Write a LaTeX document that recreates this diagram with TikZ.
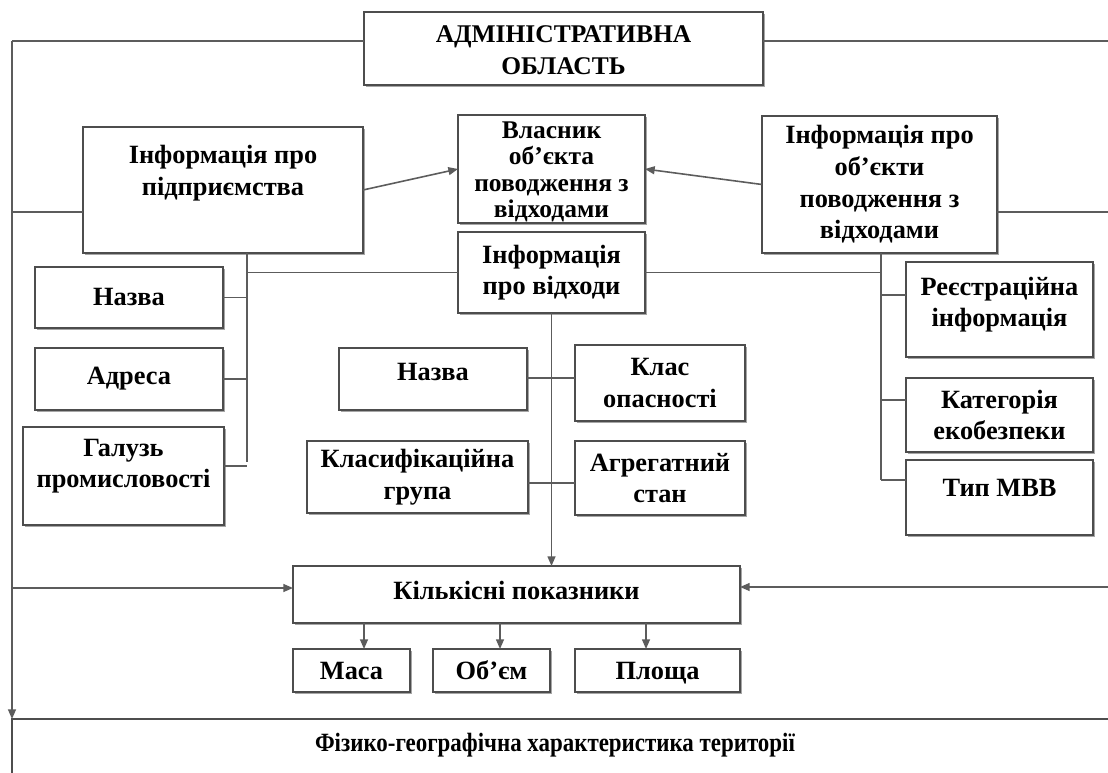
\documentclass[tikz,border=0pt]{standalone}
\usepackage{fontspec}
\setmainfont{Liberation Serif}
\usepackage{graphicx}
\usepackage{tikz}
\usetikzlibrary{calc,arrows.meta,shadows}
\newcommand{\pxl}{0.02cm}
\definecolor{ln}{HTML}{5C5C5C}
\definecolor{bx}{HTML}{4D4D4D}

\begin{document}
\begin{tikzpicture}[x=0.02cm,y=-0.02cm,
                    box/.style={draw=bx,line width=1.1pt,fill=white,rectangle,inner sep=0pt,outer sep=0pt,anchor=north west,
                        drop shadow={shadow xshift=1.3pt,shadow yshift=-1.3pt,fill=black!35,opacity=1}},
                    txt/.style={align=center,inner sep=0pt,font=\bfseries\fontsize{15}{18}\selectfont},
                    wire/.style={draw=ln,line width=0.9pt},
                    arr/.style={wire,-{Triangle[length=5.5pt,width=4.5pt]}}]
                    \useasboundingbox (0,0) rectangle (1108,773);
                    \fill[white] (0,0) rectangle (1108,773);

                    \foreach \n/\xa/\ya/\xb/\yb in {oblast/364/12/763/85, pidpr/83/127/363/253, vlasnyk/458/115/645/223,
                        obyekty/762/116/997/253, vidkhody/458/232/645/313, nazva/35/267/223/328, adresa/35/348/223/410,
                        haluz/23/427/224/525, nazvavid/339/348/527/410, klasyf/307/441/528/513, klas/575/345/745/421,
                        ahreh/575/441/745/515, reyestr/906/262/1093/357, kategor/906/378/1093/452, typ/906/460/1093/535,
                        kilk/293/566/740/623, masa/293/649/410/692, obyem/433/649/550/692, ploshcha/575/649/740/692}{
                    \node[box,minimum width={(\xb-\xa)*\pxl},minimum height={(\yb-\ya)*\pxl}] (\n) at (\xa,\ya) {};
                    }
                    \node[draw=bx,line width=1.1pt,rectangle,inner sep=0pt,outer sep=0pt,anchor=north west,
                        minimum width={1120*\pxl},minimum height={70*\pxl}] (fizgeo) at (12,719) {};

                    \node[txt,font=\bfseries\fontsize{14.5}{18}\selectfont] (oblast-t) at ($(oblast.center)+(0,2)$) {АДМІНІСТРАТИВНА\\ОБЛАСТЬ};
                    \node[txt] (pidpr-t) at ($(pidpr.center)+(0,-17)$) {Інформація про\\підприємства};
                    \node[txt,font=\bfseries\fontsize{14.5}{15}\selectfont] (vlasnyk-t) at ($(vlasnyk.center)+(0,3)$) {Власник\\об’єкта\\поводження з\\відходами};
                    \node[txt] (obyekty-t) at (obyekty.center) {Інформація про\\об’єкти\\поводження з\\відходами};
                    \node[txt] (vidkhody-t) at (vidkhody.center) {Інформація\\про відходи};
                    \node[txt] (nazva-t) at (nazva.center) {Назва};
                    \node[txt] (adresa-t) at (adresa.center) {Адреса};
                    \node[txt] (haluz-t) at ($(haluz.center)+(0,-10)$) {Галузь\\промисловості};
                    \node[txt] (nazvavid-t) at ($(nazvavid.center)+(0,-7)$) {Назва};
                    \node[txt] (klasyf-t) at (klasyf.center) {Класифікаційна\\група};
                    \node[txt] (klas-t) at (klas.center) {Клас\\опасності};
                    \node[txt] (ahreh-t) at (ahreh.center) {Агрегатний\\стан};
                    \node[txt] (reyestr-t) at ($(reyestr.center)+(0,-5)$) {Реєстраційна\\інформація};
                    \node[txt] (kategor-t) at (kategor.center) {Категорія\\екобезпеки};
                    \node[txt] (typ-t) at ($(typ.center)+(0,-10)$) {Тип МВВ};
                    \node[txt] (kilk-t) at ($(kilk.center)+(0,-4)$) {Кількісні показники};
                    \node[txt,anchor=base] (masa-t) at (masa.center |- 0,679) {Маса};
                    \node[txt,anchor=base] (obyem-t) at (obyem.center |- 0,679) {Об’єм};
                    \node[txt,anchor=base] (ploshcha-t) at (ploshcha.center |- 0,679) {Площа};
                    \node[txt] (fizgeo-t) at (555,745) {\scalebox{0.87}[1]{Фізико-географічна характеристика території}};

                    \coordinate (lt) at (12,41);
                    \coordinate (lm) at (12,212);
                    \coordinate (lk) at (12,588);
                    \coordinate (rt) at (1108,41);
                    \coordinate (rm) at (1108,212);
                    \coordinate (rk) at (1108,587);
                    \coordinate (lbus) at (247,462);
                    \coordinate (rbus) at (881,480);

                    \draw[wire] (oblast.west |- lt) -- (lt);
                    \draw[arr] (lt) -- (fizgeo.north west);
                    \draw[wire] (lm) -- (pidpr.west |- lm);
                    \draw[arr] (lk) -- (kilk.west |- lk);
                    \draw[wire] (oblast.east |- rt) -- (rt);
                    \draw[wire] (obyekty.east |- rm) -- (rm);
                    \draw[arr] (rk) -- (kilk.east |- rk);

                    \draw[arr] (pidpr.east) -- (vlasnyk.west);
                    \draw[arr] (obyekty.west) -- (vlasnyk.east);

                    \draw[wire] (pidpr.south -| lbus) -- (lbus);
                    \draw[wire] (vidkhody.west) -- (vidkhody.west -| lbus);
                    \foreach \n in {nazva,adresa,haluz}{
                    \draw[wire] (\n.east |- \n-t) -- (lbus |- \n-t);
                    }
                    \draw[wire] (obyekty.south -| rbus) -- (rbus);
                    \draw[wire] (vidkhody.east) -- (vidkhody.east -| rbus);
                    \foreach \n/\y in {reyestr/295,kategor/400,typ/480}{
                    \draw[wire] (rbus |- 0,\y) -- (\n.west |- 0,\y);
                    }

                    \draw[arr] (vidkhody.south) -- (vidkhody.south |- kilk.north);
                    \draw[wire] (nazvavid.east |- 0,378) -- (klas.west |- 0,378);
                    \draw[wire] (klasyf.east |- 0,483) -- (ahreh.west |- 0,483);
                    \foreach \n/\x in {masa/364,obyem/500,ploshcha/646}{
                    \draw[arr] (kilk.south -| \x,0) -- (\n.north -| \x,0);
                    }
                    \end{tikzpicture}
\end{document}
